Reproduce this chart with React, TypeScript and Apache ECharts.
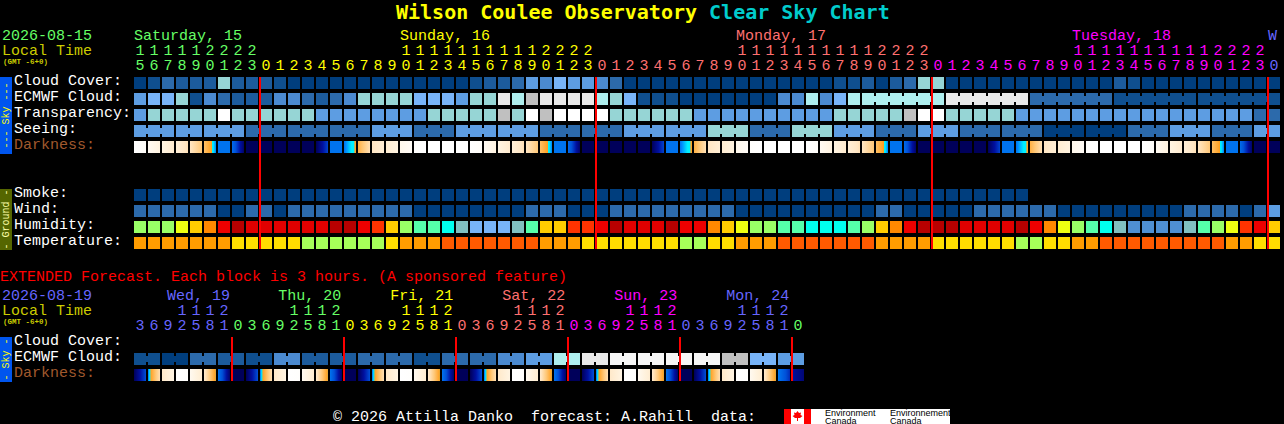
import React, { useEffect, useRef } from "react";
import * as echarts from "echarts";

// ---------- data ----------
const dayHours = [0,1,2,3,4,5,6,7,8,9,10,11,12,13,14,15,16,17,18,19,20,21,22,23];
const hours = [15,16,17,18,19,20,21,22,23,...dayHours,...dayHours,...dayHours,0];
const threeHours = [0,3,6,9,12,15,18,21];
const extHours = [3,6,9,12,15,18,21,...threeHours,...threeHours,...threeHours,...threeHours,...threeHours,0];

const skyRowLabels = ["Cloud Cover:","ECMWF Cloud:","Transparency:","Seeing:","Darkness:","","","Smoke:","Wind:","Humidity:","Temperature:"];
const extRowLabels = ["Cloud Cover:","ECMWF Cloud:","Darkness:"];

const cloudCover = [
  0,1,3,2,2,2,7,2,2,2,
  1,0,0,0,0,0,0,0,0,0,
  0,0,0,0,1,2,2,3,5,4,
  6,5,5,4,3,0,0,0,0,0,
  0,0,0,0,0,0,0,0,0,0,
  1,1,2,0,2,3,7,7,0,0,
  0,0,0,0,0,0,0,0,0,0,
  2,1,0,0,0,0,0,0,0,0,
  0,0];
const ecmwfCloud = [
  5,6,6,7,1,4,3,2,2,2,
  4,4,3,2,3,4,7,7,7,7,
  6,6,6,5,7,7,9,8,10,9,
  9,9,9,8,7,6,1,1,1,0,
  0,0,0,0,0,0,4,4,8,4,
  6,8,8,8,8,8,8,8,9,9,
  9,9,9,9,3,3,3,3,3,3,
  1,1,1,1,1,1,1,1,1,1,
  1,1];
const ecmwfRuns = [[52,57],[58,63],[64,69],[70,75],[76,81]];
const transparency = [
  5,7,7,7,7,7,11,7,7,7,
  7,7,7,5,5,5,5,5,5,5,
  5,7,7,7,7,7,10,7,11,10,
  11,11,11,11,7,7,7,7,7,7,
  5,5,5,5,5,5,5,5,5,5,
  7,7,7,7,7,10,11,11,7,7,
  7,7,7,5,5,5,5,5,5,5,
  5,5,5,5,5,5,5,5,5,5,
  3,3];
const seeing = [
  5,5,5,5,5,5,5,5,3,3,
  3,3,3,3,3,3,3,5,5,5,
  3,3,3,5,5,5,5,5,5,3,
  3,3,3,3,3,5,5,5,5,5,
  5,7,7,7,3,3,3,7,7,7,
  5,5,5,3,3,3,5,5,5,3,
  3,3,3,3,3,0,0,0,0,0,
  0,3,3,3,5,5,5,3,3,3,
  5,5];
const seeingRuns = [[0,2],[3,4],[5,7],[8,10],[11,13],[14,16],[17,19],[20,22],[23,25],[26,28],[29,31],[32,34],[35,37],[38,40],[41,43],[44,46],[47,49],[50,52],[53,55],[56,58],[59,61],[62,64],[65,67],[68,70],[71,73],[74,76],[77,79],[80,81]];
const darknessStart = [
  0,.4,.9,1.3,2,3.2,4.5,4.6,6,6,
  6,6,6,6,4.5,4.5,3.6,2,1.5,.6,
  .1,0,0,0,0,.4,.9,1.3,2,3.2,
  4.5,4.6,6,6,6,6,6,6,4.5,4.5,
  3.6,2,1.5,.6,.1,0,0,0,0,.4,
  .9,1.3,2,3.2,4.5,4.6,6,6,6,6,
  6,6,4.5,4.5,3.6,2,1.5,.6,.1,0,
  0,0,0,.4,.9,1.3,2,3.2,4.5,4.6,
  6,6];
const darknessEnd = [
  .2,1,1.6,2.2,3,4.45,4.5,5.9,6,6,
  6,6,6,5.1,4.5,3.95,2.2,1.4,1,.3,
  0,0,0,0,.2,1,1.6,2.2,3,4.45,
  4.5,5.9,6,6,6,6,6,5.1,4.5,3.95,
  2.2,1.4,1,.3,0,0,0,0,.2,1,
  1.6,2.2,3,4.45,4.5,5.9,6,6,6,6,
  6,5.1,4.5,3.95,2.2,1.4,1,.3,0,0,
  0,0,.2,1,1.6,2.2,3,4.45,4.5,5.9,
  6,6];
const smoke = [
  0,0,0,0,0,0,0,0,0,0,
  0,0,0,0,0,0,0,0,0,0,
  0,0,0,0,0,0,0,0,0,0,
  0,0,0,0,0,0,0,0,0,0,
  0,0,0,0,0,0,0,0,0,0,
  0,0,0,0,0,0,0,0,0,0,
  0,0,0,0];
const wind = [
  3,3,3,3,3,3,0,0,3,3,
  0,3,3,3,3,3,3,3,3,3,
  0,0,0,0,0,0,0,0,3,3,
  3,0,0,0,3,3,3,3,3,3,
  3,3,3,0,0,0,0,0,0,0,
  0,0,0,3,3,0,0,0,0,0,
  3,3,3,3,3,3,0,0,0,0,
  0,0,0,0,0,3,3,3,3,0,
  3,5];
const humidity = [
  0,0,0,3,4,5,7,9,8,8,
  8,8,8,8,9,9,7,6,4,0,
  1,1,2,10,11,11,11,10,1,4,
  4,6,6,7,9,8,8,8,9,7,
  7,5,4,3,0,0,1,1,2,2,
  2,1,0,4,5,7,9,9,9,8,
  8,8,8,9,7,5,3,0,1,2,
  10,12,12,12,12,10,1,0,3,6,
  7,4];
const temperature = [
  0,0,0,0,0,0,0,1,1,1,
  1,1,2,2,2,2,2,2,1,0,
  0,0,3,3,3,3,3,3,3,0,
  0,0,1,1,1,1,1,1,1,2,
  2,1,1,0,0,0,3,3,3,3,
  3,3,3,0,0,0,0,1,1,1,
  1,1,1,2,2,1,1,0,0,3,
  3,3,3,3,3,3,3,3,0,0,
  1,1];

const extEcmwf = [
  1,1,0,0,3,3,2,2,1,1,
  4,4,2,2,2,2,3,3,3,3,
  1,1,3,3,3,3,4,4,5,5,
  8,8,9,9,12,12,12,12,12,12,
  12,12,10,10,6,6,5,5];
const extEcmwfRuns = [[0,1],[2,3],[4,5],[6,7],[8,9],[10,11],[12,13],[14,15],[16,17],[18,19],[20,21],[22,23],[24,25],[26,27],[28,29],[30,31],[32,33],[34,35],[36,37],[38,39],[40,41],[42,43],[44,45],[46,47]];
const extDarkStart = [
  6,4.5,1.8,0,.5,1.8,4.5,6,
  6,4.5,1.8,0,.5,1.8,4.5,6,
  6,4.5,1.8,0,.5,1.8,4.5,6,
  6,4.5,1.8,0,.5,1.8,4.5,6,
  6,4.5,1.8,0,.5,1.8,4.5,6,
  6,4.5,1.8,0,.5,1.8,4.45,5.5];
const extDarkEnd = [
  5,2.2,.9,.1,1.5,4.1,5.9,6,
  5,2.2,.9,.1,1.5,4.1,5.9,6,
  5,2.2,.9,.1,1.5,4.1,5.9,6,
  5,2.2,.9,.1,1.5,4.1,5.9,6,
  5,2.2,.9,.1,1.5,4.1,5.9,6,
  5,2.2,.9,.1,1.5,4.1,5.3,5.8];

const cloudColors = ["#003e7e","#0f4f8f","#1c5b9c","#2c6aab","#4b8ad0","#5d9de2","#78b4f8","#96d5d5","#aeeeee","#e9e9e9","#c0c0c0","#ffffff","#f6f6f6"];
const humidityColors = ["#99ff66","#55ffaa","#00ffee","#eeff11","#ffcc00","#ff8800","#ff3300","#ee0000","#e00000","#b80000","#80c0c0","#78b4f8","#4f8fd2"];
const temperatureColors = ["#ff9c00","#ffdd00","#a6ff59","#ff5a00"];
const darknessRamp: [number, string][] = [[0,"#ffffff"],[1,"#fff3e0"],[2,"#ffe6c4"],[3,"#ffc878"],[4,"#ffa020"],[4.05,"#00f0ff"],[4.15,"#00f0ff"],[4.4,"#0090ff"],[4.5,"#0073ee"],[5,"#0050d8"],[5.5,"#0010a0"],[6,"#00005a"]];

const GREEN = "#66ff66", YELLOW = "#ffff00", SALMON = "#ff7070", MAGENTA = "#ff00ff", BLUE = "#6666ff";
const mainDays = [
  { text: "Saturday, 15", col: 0, color: GREEN },
  { text: "Sunday, 16", col: 19, color: YELLOW },
  { text: "Monday, 17", col: 43, color: SALMON },
  { text: "Tuesday, 18", col: 67, color: MAGENTA },
  { text: "W", col: 81, color: BLUE },
];
const extDays = [
  { text: "Wed, 19", col: 2.36, color: BLUE },
  { text: "Thu, 20", col: 10.3, color: GREEN },
  { text: "Fri, 21", col: 18.3, color: YELLOW },
  { text: "Sat, 22", col: 26.3, color: SALMON },
  { text: "Sun, 23", col: 34.3, color: MAGENTA },
  { text: "Mon, 24", col: 42.3, color: BLUE },
];
const mainCycle = [GREEN, YELLOW, SALMON, MAGENTA, BLUE];
const extCycle = [BLUE, GREEN, YELLOW, SALMON, MAGENTA, BLUE, GREEN];

// ---------- layout ----------
const MONO = "'Liberation Mono'";
const FS = 15;
const PITCH = 14, LEFT = 133;

function dayIndexes(list: number[]) {
  let d = 0;
  return list.map((h, i) => {
    if (i > 0 && h === 0) d += 1;
    return d;
  });
}
const unit = (h: number) => String(h % 10);
const tens = (h: number) => (h >= 10 ? String(Math.floor(h / 10)) : "");

function blendHex(a: string, b: string, t: number) {
  const pa = [1, 3, 5].map((i) => parseInt(a.slice(i, i + 2), 16));
  const pb = [1, 3, 5].map((i) => parseInt(b.slice(i, i + 2), 16));
  return "rgb(" + pa.map((v, i) => Math.round(v + (pb[i] - v) * t)).join(",") + ")";
}
function rampColor(d: number) {
  for (let i = 1; i < darknessRamp.length; i++) {
    const [d0, c0] = darknessRamp[i - 1];
    const [d1, c1] = darknessRamp[i];
    if (d <= d1) return blendHex(c0, c1, (d - d0) / (d1 - d0));
  }
  return darknessRamp[darknessRamp.length - 1][1];
}
function darkFill(a: number, b: number) {
  const stops = [{ offset: 0, color: rampColor(a) }];
  const lo = Math.min(a, b), hi = Math.max(a, b);
  const inner = darknessRamp.filter((r) => r[0] > lo && r[0] < hi).map((r) => ({ offset: (r[0] - a) / (b - a), color: r[1] }));
  inner.sort((p, q) => p.offset - q.offset);
  stops.push(...inner, { offset: 1, color: rampColor(b) });
  return new echarts.graphic.LinearGradient(0, 0, 1, 0, stops);
}

function cellSeries(name: string, values: number[], colors: string[], row: number, axis: number, runs: number[][] = []) {
  return {
    type: "custom", name, xAxisIndex: axis, yAxisIndex: axis === 0 ? 0 : 1, silent: true,
    encode: { x: 0, y: 1 },
    data: values.map((v, col) => [col, row, v]),
    renderItem: (_p: any, api: any) => {
      const c = api.coord([api.value(0), api.value(1)]);
      const col = api.value(0);
      const fill = colors[api.value(2)];
      const children: any[] = [{ type: "rect", shape: { x: c[0] - 6, y: c[1] - 6, width: 12, height: 12 }, style: { fill } }];
      if (runs.some((r) => col >= r[0] && col < r[1])) {
        children.push({ type: "rect", shape: { x: c[0] + 6, y: c[1] - 3, width: 2, height: 6 }, style: { fill } });
      }
      return { type: "group", children };
    },
  };
}
function darknessSeries(start: number[], end: number[], row: number, axis: number) {
  return {
    type: "custom", name: "Darkness", xAxisIndex: axis, yAxisIndex: axis === 0 ? 0 : 1, silent: true,
    encode: { x: 0, y: 1 },
    data: start.map((v, col) => [col, row, v, end[col]]),
    renderItem: (_p: any, api: any) => {
      const c = api.coord([api.value(0), api.value(1)]);
      return { type: "rect", shape: { x: c[0] - 6, y: c[1] - 6, width: 12, height: 12 }, style: { fill: darkFill(api.value(2), api.value(3)) } };
    },
  };
}
function midnightSeries(list: number[], lastRow: number, axis: number) {
  const cols = list.map((h, i) => (h === 0 ? i : -1)).filter((i) => i >= 0);
  return {
    type: "custom", name: "Midnight", xAxisIndex: axis, yAxisIndex: axis === 0 ? 0 : 1, silent: true, z: 5,
    encode: { x: 0, y: 1 },
    data: cols.map((c) => [c, 0]),
    renderItem: (_p: any, api: any) => {
      const top = api.coord([api.value(0), 0]);
      const bottom = api.coord([api.value(0), lastRow]);
      return { type: "rect", shape: { x: top[0] - 7, y: top[1] - 6, width: 2, height: bottom[1] - top[1] + 12 }, style: { fill: "#ff0000" } };
    },
  };
}
function hourAxes(list: number[], cycle: string[], grid: number) {
  const days = dayIndexes(list);
  const common = {
    type: "category", gridIndex: grid, position: "top",
    axisLine: { show: false }, axisTick: { show: false }, splitLine: { show: false },
  };
  const label = { interval: 0, fontFamily: MONO, fontSize: FS, lineHeight: 13, margin: 2, color: (_v: any, i: number) => cycle[days[i]] };
  return [
    { ...common, data: list.map(unit), axisLabel: label },
    { ...common, offset: 15, data: list.map(tens), axisLabel: label },
  ];
}
function rowAxis(labels: string[], grid: number) {
  return {
    type: "category", gridIndex: grid, inverse: true, data: labels,
    axisLine: { show: false }, axisTick: { show: false }, splitLine: { show: false },
    axisLabel: {
      interval: 0, align: "left", margin: LEFT - 14, fontFamily: MONO, fontSize: FS,
      verticalAlign: "bottom", lineHeight: 3,
      color: (v: string) => (v === "Darkness:" ? "#a0592d" : "#ffffff"),
    },
  };
}
const txt = (text: string, x: number, y: number, fill: string, size = FS, extra: any = {}) => ({
  type: "text", x, y, silent: true,
  style: { text, fill, font: `${extra.weight || "normal"} ${size}px ${extra.family || MONO}`, lineHeight: size < FS ? size : 13, verticalAlign: "middle", align: extra.align || "left" },
  rotation: extra.rotation || 0,
});
const sideBar = (y0: number, y1: number, bg: string, label: string, fg: string) => [
  { type: "rect", silent: true, shape: { x: 0, y: y0, width: 12, height: y1 - y0 }, style: { fill: bg } },
  txt(label, 6, (y0 + y1) / 2, fg, 10, { align: "center", rotation: Math.PI / 2 }),
];

const colX = (c: number) => LEFT + 1 + c * PITCH;

export default function App() {
  const ref = useRef<HTMLDivElement>(null);
  useEffect(() => {
    document.body.style.margin = "0";
    document.body.style.background = "#000";
    const chart = echarts.init(ref.current!, undefined, { renderer: "svg" });
    chart.setOption({
      animation: false,
      backgroundColor: "#000000",
      title: {
        left: 396, top: 0, padding: 0,
        text: "{a|Wilson Coulee Observatory\u00a0}{b|Clear Sky Chart}",
        textStyle: {
          rich: {
            a: { color: "#ffff00", fontFamily: "'DejaVu Sans Mono'", fontWeight: "bold", fontSize: 20, lineHeight: 24 },
            b: { color: "#00cccc", fontFamily: "'DejaVu Sans Mono'", fontWeight: "bold", fontSize: 20, lineHeight: 24 },
          },
        },
      },
      grid: [
        { left: LEFT, top: 75, width: 82 * PITCH, height: 176, containLabel: false },
        { left: LEFT, top: 335, width: 48 * PITCH, height: 48, containLabel: false },
      ],
      xAxis: [...hourAxes(hours, mainCycle, 0), ...hourAxes(extHours, extCycle, 1)],
      yAxis: [rowAxis(skyRowLabels, 0), rowAxis(extRowLabels, 1)],
      series: [
        cellSeries("Cloud Cover", cloudCover, cloudColors, 0, 0),
        cellSeries("ECMWF Cloud", ecmwfCloud, cloudColors, 1, 0, ecmwfRuns),
        cellSeries("Transparency", transparency, cloudColors, 2, 0),
        cellSeries("Seeing", seeing, cloudColors, 3, 0, seeingRuns),
        darknessSeries(darknessStart, darknessEnd, 4, 0),
        cellSeries("Smoke", smoke, cloudColors, 7, 0),
        cellSeries("Wind", wind, cloudColors, 8, 0),
        cellSeries("Humidity", humidity, humidityColors, 9, 0),
        cellSeries("Temperature", temperature, temperatureColors, 10, 0),
        midnightSeries(hours, 10, 0),
        cellSeries("ECMWF Cloud (extended)", extEcmwf, cloudColors, 1, 2, extEcmwfRuns),
        darknessSeries(extDarkStart, extDarkEnd, 2, 2),
        midnightSeries(extHours, 2, 2),
      ],
      graphic: [
        txt("2026-08-15", 2, 36, GREEN),
        txt("Local Time", 2, 51, "#cccc00"),
        txt("(GMT -6+0)", 3, 62, "#cccc00", 7.5, { weight: "bold" }),
        ...mainDays.map((d) => txt(d.text, colX(d.col), 36, d.color)),
        ...sideBar(77, 154, "#0055ee", "--- Sky ---", "#ffff00"),
        ...sideBar(189, 250, "#556600", "- Ground -", "#ffffaa"),
        txt("EXTENDED Forecast. Each block is 3 hours. (A sponsored feature)", 0, 277, "#ff0000"),
        txt("2026-08-19", 2, 296, BLUE),
        txt("Local Time", 2, 311, "#cccc00"),
        txt("(GMT -6+0)", 3, 322, "#cccc00", 7.5, { weight: "bold" }),
        ...extDays.map((d) => txt(d.text, colX(d.col), 296, d.color)),
        ...sideBar(337, 382, "#0055ee", "- Sky -", "#ffff00"),
        txt("\u00a9 2026 Attilla Danko\u00a0\u00a0forecast: A.Rahill\u00a0\u00a0data:", 333, 417, "#ffffff"),
        { type: "rect", silent: true, shape: { x: 784, y: 409, width: 166, height: 15 }, style: { fill: "#ffffff" } },
        { type: "rect", silent: true, shape: { x: 784, y: 409, width: 7, height: 15 }, style: { fill: "#ff0000" } },
        { type: "rect", silent: true, shape: { x: 804, y: 409, width: 7, height: 15 }, style: { fill: "#ff0000" } },
        { type: "polygon", silent: true, shape: { points: [[797.5,411],[799,413],[801,412.5],[800.5,415],[802.5,416],[800,418],[798,418],[798,421],[797,421],[797,418],[795,418],[792.5,416],[794.5,415],[794,412.5],[796,413]] }, style: { fill: "#ff0000" } },
        txt("Environment", 825, 413, "#000000", 9, { family: "'Liberation Sans'" }),
        txt("Canada", 825, 420.5, "#000000", 9, { family: "'Liberation Sans'" }),
        txt("Environnement", 890, 413, "#000000", 9, { family: "'Liberation Sans'" }),
        txt("Canada", 890, 420.5, "#000000", 9, { family: "'Liberation Sans'" }),
      ],
    });
    return () => chart.dispose();
  }, []);
  return <div ref={ref} style={{ position: "fixed", left: 0, top: 0, width: 1284, height: 424, background: "#000" }} />;
}
